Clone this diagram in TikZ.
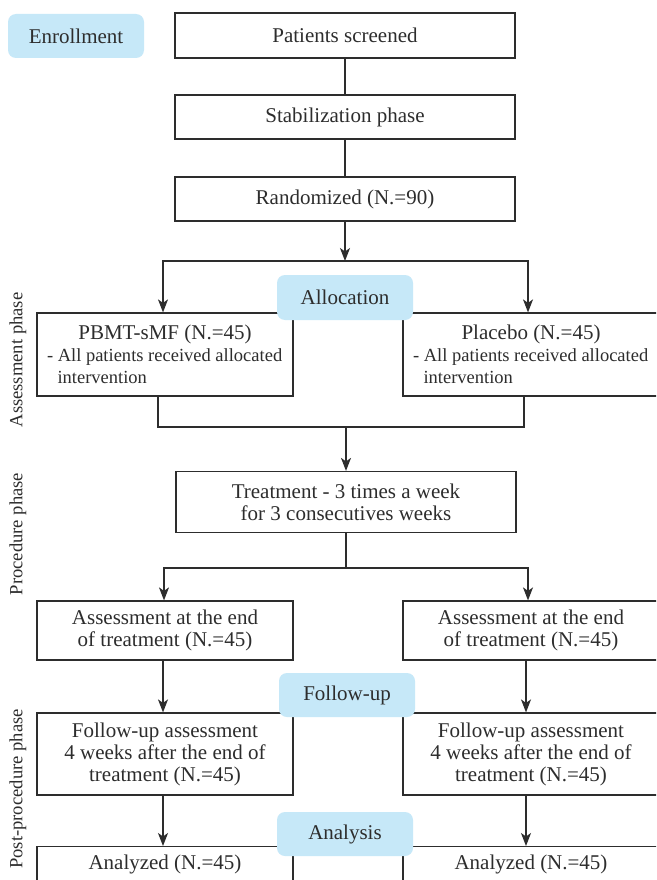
\documentclass[tikz,border=0pt]{standalone}
\usepackage{fontspec}
\setmainfont{Liberation Serif}
\usetikzlibrary{arrows.meta,calc}
\definecolor{bluefill}{RGB}{198,232,248}
\definecolor{ink}{RGB}{45,45,45}
\newcommand{\smalltxt}{\fontsize{18.5}{21}\selectfont}
\tikzset{
  box/.style={draw=ink, line width=1.2pt, rectangle, inner sep=0pt, align=center, text=ink, font=\fontsize{21}{22}\selectfont},
  tag/.style={fill=bluefill, rounded corners=8pt, inner sep=0pt, minimum width=136, minimum height=44, text=ink, font=\fontsize{21}{22}\selectfont},
  phaselab/.style={rotate=90, text=ink, inner sep=0pt, font=\fontsize{18.6}{20}\selectfont},
  conn/.style={draw=ink, line width=1.2pt},
  arr/.style={conn, -{Stealth[length=13pt,width=10pt,inset=3.5pt]}},
  armbox/.style={box, align=left, inner xsep=10pt, minimum width=256, minimum height=83}
}
\begin{document}
\begin{tikzpicture}[x=1pt,y=-1pt]
\useasboundingbox (0,0) rectangle (656,880);
\clip (0,0) rectangle (656,880);
\fill[white] (0,0) rectangle (656,880);

% phase labels
\node[phaselab] (labA) at (18,360) {Assessment phase};
\node[phaselab] (labP) at (18,534) {Procedure phase};
\node[phaselab] (labF) at (18,789) {Post-procedure phase};

% main column
\node[box, minimum width=340, minimum height=45] (screen) at (345,35.5) {Patients screened};
\node[box, minimum width=340, minimum height=44] (stab) at (345,117) {Stabilization phase};
\node[box, minimum width=340, minimum height=44] (rand) at (345,199) {Randomized (N.=90)};

% arms
\node[armbox] (pbmt) at (165,354.5) {\makebox[236pt]{PBMT-sMF (N.=45)}\\{\smalltxt - All patients received allocated}\\{\smalltxt\hspace*{10.5pt}intervention}};
\node[armbox] (plac) at (531,354.5) {\makebox[236pt]{Placebo (N.=45)}\\{\smalltxt - All patients received allocated}\\{\smalltxt\hspace*{10.5pt}intervention}};

\node[box, minimum width=340, minimum height=61] (treat) at (346,502) {Treatment - 3 times a week\\for 3 consecutives weeks};

\node[box, minimum width=256, minimum height=59] (asL) at (165,630.5) {Assessment at the end\\of treatment (N.=45)};
\node[box, minimum width=256, minimum height=59] (asR) at (531,630.5) {Assessment at the end\\of treatment (N.=45)};

\node[box, minimum width=256, minimum height=82] (fuL) at (165,754) {Follow-up assessment\\4 weeks after the end of\\treatment (N.=45)};
\node[box, minimum width=256, minimum height=82] (fuR) at (531,754) {Follow-up assessment\\4 weeks after the end of\\treatment (N.=45)};

\node[box, minimum width=256, minimum height=36, anchor=north] (anL) at (165,846) {Analyzed (N.=45)};
\node[box, minimum width=256, minimum height=36, anchor=north] (anR) at (531,846) {Analyzed (N.=45)};

% connectors
\coordinate (j1) at (345,261);
\coordinate (j2) at (346,427);
\coordinate (j3) at (346,568);
\draw[conn] (screen.south) -- (stab.north);
\draw[conn] (stab.south) -- (rand.north);
\draw[arr] (rand.south) -- (j1);
\draw[arr] (j1) -| ([xshift=-2pt]pbmt.north);
\draw[arr] (j1) -| ([xshift=-3pt]plac.north);
\draw[conn] ([xshift=-7pt]pbmt.south) |- (j2) -| ([xshift=-7pt]plac.south);
\draw[arr] (j2) -- (treat.north);
\draw[conn] (treat.south) -- (j3);
\draw[arr] (j3) -| ([xshift=-1pt]asL.north);
\draw[arr] (j3) -| ([xshift=-3pt]asR.north);
\draw[arr] ([xshift=-2pt]asL.south) -- ([xshift=-2pt]fuL.north);
\draw[arr] ([xshift=-5pt]asR.south) -- ([xshift=-5pt]fuR.north);
\draw[arr] ([xshift=-2pt]fuL.south) -- ([xshift=-2pt]anL.north);
\draw[arr] ([xshift=-5pt]fuR.south) -- ([xshift=-5pt]anR.north);

% phase tags (on top)
\node[tag] (enroll) at (76,36) {Enrollment};
\node[tag, minimum height=45] (alloc) at (345,297.5) {Allocation};
\node[tag] (follow) at (347,695) {Follow-up};
\node[tag] (analysis) at (345,834) {Analysis};
\end{tikzpicture}
\end{document}
